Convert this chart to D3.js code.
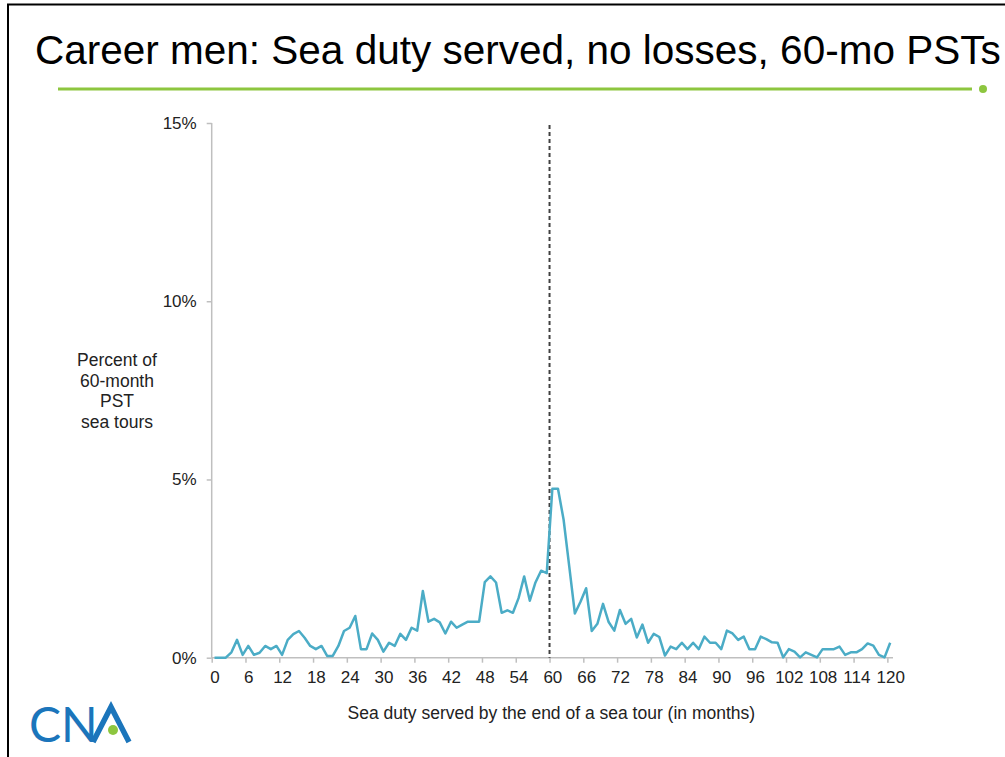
<!DOCTYPE html>
<html>
<head>
<meta charset="utf-8">
<script src="https://cdn.jsdelivr.net/npm/d3@7"></script>
<style>
  body { margin: 0; background: #fff; }
  svg { display: block; font-family: "Liberation Sans", Arial, sans-serif; }
  .axis path, .axis line { stroke: #bfbfbf; stroke-width: 1.5; }
  .axis text { fill: #222; font-size: 17px; }
</style>
</head>
<body>
<div class="chart"></div>
<script>
// months 0..120 of sea duty served
const months = d3.range(0, 121);
// percent of 60-month PST sea tours, one per month
const percent = [
  0, 0, 0, 0.15, 0.5, 0.08, 0.33, 0.08, 0.14, 0.33,
  0.24, 0.33, 0.08, 0.5, 0.66, 0.75, 0.56, 0.33, 0.24, 0.33,
  0.05, 0.05, 0.33, 0.75, 0.84, 1.17, 0.24, 0.24, 0.68, 0.5,
  0.17, 0.42, 0.33, 0.67, 0.5, 0.84, 0.76, 1.87, 1.01, 1.09,
  0.99, 0.68, 1.01, 0.84, 0.93, 1.01, 1.01, 1.01, 2.12, 2.28,
  2.11, 1.26, 1.33, 1.26, 1.67, 2.28, 1.6, 2.11, 2.44, 2.37,
  4.74, 4.74, 3.87, 2.56, 1.24, 1.57, 1.95, 0.75, 0.95, 1.51,
  1.0, 0.76, 1.34, 0.95, 1.09, 0.57, 0.93, 0.42, 0.67, 0.58,
  0.06, 0.31, 0.24, 0.42, 0.24, 0.42, 0.24, 0.59, 0.42, 0.42,
  0.24, 0.76, 0.68, 0.5, 0.59, 0.24, 0.24, 0.59, 0.52, 0.43,
  0.42, 0.01, 0.24, 0.17, 0.01, 0.15, 0.08, 0.01, 0.24, 0.24,
  0.24, 0.31, 0.08, 0.15, 0.15, 0.24, 0.4, 0.34, 0.08, 0.01,
  0.42
];
const xTicks = d3.range(0, 121, 6);
const yTicks = [0, 0.05, 0.10, 0.15];
const refMonth = 60;
const title = "Career men: Sea duty served, no losses, 60-mo PSTs";
const xTitle = "Sea duty served by the end of a sea tour (in months)";
const yTitle = ["Percent of", "60-month", "PST", "sea tours"];

const svgWidth = 1005, svgHeight = 757;

const svg = d3.select(".chart").append("svg")
  .attr("width", svgWidth)
  .attr("height", svgHeight);

// slide frame
svg.append("path")
  .attr("d", "M8,760 L8,4.5 L1010,4.5")
  .attr("fill", "none")
  .attr("stroke", "#000")
  .attr("stroke-width", 2);

// title + green rule
svg.append("text")
  .attr("x", 35).attr("y", 64)
  .attr("font-size", 40.5)
  .attr("fill", "#000")
  .text(title);

svg.append("line")
  .attr("x1", 58).attr("x2", 972)
  .attr("y1", 89).attr("y2", 89)
  .attr("stroke", "#8dc63f").attr("stroke-width", 3);
svg.append("circle")
  .attr("cx", 983).attr("cy", 89).attr("r", 4)
  .attr("fill", "#8dc63f");

// scales: each month is a category slot, ticks sit on the slot edges
const x = d3.scaleLinear().domain([0, 121]).range([211.7, 893]);
const y = d3.scaleLinear().domain([0, 0.15]).range([657.7, 123]);
const half = (x(1) - x(0)) / 2;

// y axis
const yAxis = svg.append("g")
  .attr("class", "axis")
  .attr("transform", "translate(" + x(0) + ",0)")
  .call(d3.axisLeft(y).tickValues(yTicks).tickSize(5).tickPadding(10)
    .tickFormat(d3.format(".0%")));

// x axis, labels centred on the month slot
const xAxis = svg.append("g")
  .attr("class", "axis")
  .attr("transform", "translate(0," + y(0) + ")")
  .call(d3.axisBottom(x).tickValues(xTicks).tickSize(5).tickPadding(8)
    .tickFormat(d3.format("d")));
xAxis.selectAll(".tick text").attr("dx", half);

// plain domain lines without end caps
yAxis.select(".domain").attr("d", "M0," + y(0.15) + "V" + y(0));
xAxis.select(".domain").attr("d", "M" + x(0) + ",0H" + x(121));

// reference dashed line at 60 months
svg.append("line")
  .attr("x1", x(refMonth)).attr("x2", x(refMonth))
  .attr("y1", y(0.15) + 2).attr("y2", y(0))
  .attr("stroke", "#404040")
  .attr("stroke-width", 2)
  .attr("stroke-dasharray", "4,3");

// the data line
const line = d3.line()
  .x((d, i) => x(months[i]) + half)
  .y(d => y(d / 100));

svg.append("path")
  .datum(percent)
  .attr("fill", "none")
  .attr("stroke", "#4bacc6")
  .attr("stroke-width", 2.5)
  .attr("stroke-linejoin", "round")
  .attr("d", line);

// axis titles
svg.append("text")
  .attr("x", (x(0) + x(121)) / 2 - 1).attr("y", 719)
  .attr("text-anchor", "middle")
  .attr("font-size", 17.5)
  .attr("fill", "#222")
  .text(xTitle);

svg.append("text")
  .attr("text-anchor", "middle")
  .attr("font-size", 17.5)
  .attr("fill", "#222")
  .selectAll("tspan")
  .data(yTitle)
  .join("tspan")
  .attr("x", 117)
  .attr("y", (d, i) => 366 + i * 20.5)
  .text(d => d);

// CNA logo
const logo = svg.append("g");
logo.append("text")
  .attr("x", 29).attr("y", 742)
  .attr("font-family", "Lato, 'Open Sans', sans-serif")
  .attr("font-size", 48)
  .attr("fill", "#1b75bb")
  .text("CN");
logo.append("path")
  .attr("d", "M93,742 L111,707 L129,742")
  .attr("fill", "none")
  .attr("stroke", "#1b75bb")
  .attr("stroke-width", 5.5);
logo.append("circle")
  .attr("cx", 113).attr("cy", 730).attr("r", 5)
  .attr("fill", "#8dc63f");
</script>
</body>
</html>
